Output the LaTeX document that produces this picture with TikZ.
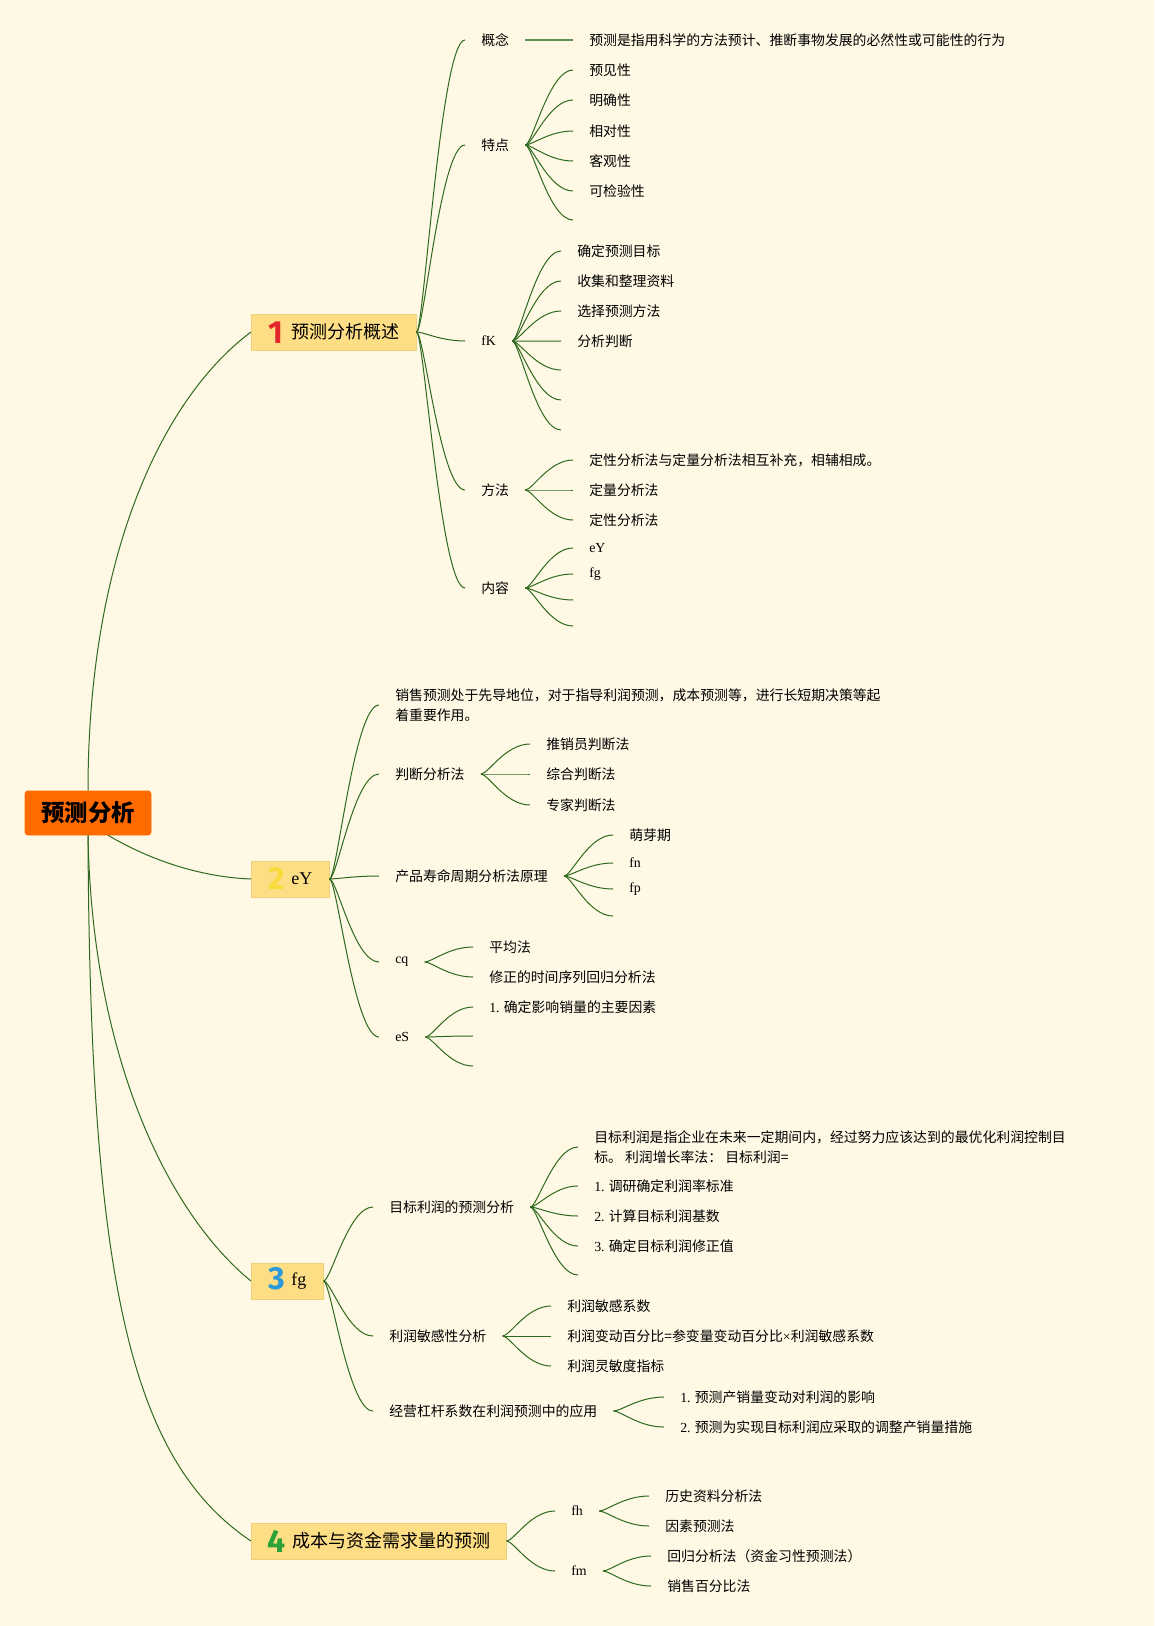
\documentclass[tikz,border=0pt]{standalone}
\usepackage{fontspec}
\setmainfont{Liberation Serif}
\newfontfamily\cjk{Noto Sans CJK SC}
\newfontfamily\numfont{Fira Sans}
\usepackage{xcolor}
\usepackage{tikz}
\usetikzlibrary{calc}
\definecolor{bgcream}{HTML}{FEF8E4}
\definecolor{linkgreen}{HTML}{2E6A1E}
\definecolor{topicfill}{HTML}{FDDE85}
\definecolor{topicdraw}{HTML}{EFD07C}
\definecolor{rootfill}{HTML}{FF6B00}
\definecolor{numred}{HTML}{E3262C}
\definecolor{numyellow}{HTML}{F8DA3A}
\definecolor{numblue}{HTML}{2C9AD8}
\definecolor{numgreen}{HTML}{2AA238}
\newcommand{\latn}[1]{{\rmfamily #1}}
\newcommand{\topicnum}[2]{\raisebox{-3.3pt}[0pt][0pt]{\numfont\bfseries\fontsize{24}{24}\selectfont\color{#1}#2}}

\begin{document}
\begin{tikzpicture}[x=0.75pt, y=-0.75pt, rootbox/.style={fill=rootfill, draw=rootfill, rounded corners=2pt, minimum width=94.5pt, minimum height=33pt, inner sep=0pt, font=\cjk\bfseries\fontsize{17.5}{20}\selectfont}, topic/.style={anchor=west, fill=topicfill, draw=topicdraw, minimum height=27pt, inner sep=0pt, font=\cjk\fontsize{13.5}{16}\selectfont}, sub/.style={anchor=west, inner xsep=12pt, inner ysep=1pt, align=left, font=\cjk\fontsize{10.4}{14.6}\selectfont}, trunk/.style={draw=linkgreen, line width=0.75pt}, link/.style={draw=linkgreen, line width=0.75pt, to path={.. controls ($(\tikztostart)!0.15!(\tikztostart -| \tikztotarget)$) and ($(\tikztotarget)!0.5!(\tikztotarget -| \tikztostart)$) .. (\tikztotarget)}}]
\fill[bgcream] (0,0) rectangle (1154,1626);
\useasboundingbox (0,0) rectangle (1154,1626);
\node[rootbox] (root) at (88,813) {预测分析};
\node[topic, minimum width=123.75pt] (b1) at (251,332) {\topicnum{numred}{1}\hspace{6.5pt}预测分析概述};
\node[topic, minimum width=58.5pt]   (b2) at (251,879) {\topicnum{numyellow}{2}\hspace{5pt}\latn{eY}};
\node[topic, minimum width=54pt]     (b3) at (251,1281) {\topicnum{numblue}{3}\hspace{5pt}\latn{fg}};
\node[topic, minimum width=191.25pt] (b4) at (251,1541) {\topicnum{numgreen}{4}\hspace{5.5pt}成本与资金需求量的预测};
\draw[trunk] (root.north) .. controls (88,560) and (160,400) .. (b1.west);
\draw[trunk] (root.-48) .. controls (150,860) and (200,877) .. (b2.west);
\draw[trunk] (root.south) .. controls (92,1060) and (170,1215) .. (b3.west);
\draw[trunk] (root.south) .. controls (90,1280) and (130,1460) .. (b4.west);
\node[sub] (gn)  at (465,40)  {概念};
\node[sub] (gn1) at (573,40)  {预测是指用科学的方法预计、推断事物发展的必然性或可能性的行为};
\node[sub] (td)  at (465,145) {特点};
\node[sub] (td1) at (573,70)  {预见性};
\node[sub] (td2) at (573,100) {明确性};
\node[sub] (td3) at (573,131) {相对性};
\node[sub] (td4) at (573,161) {客观性};
\node[sub] (td5) at (573,191) {可检验性};
\node[sub] (td6) at (573,220) {};
\node[sub] (fk)  at (465,341) {\latn{fK}};
\node[sub] (fk1) at (561,251) {确定预测目标};
\node[sub] (fk2) at (561,281) {收集和整理资料};
\node[sub] (fk3) at (561,311) {选择预测方法};
\node[sub] (fk4) at (561,341) {分析判断};
\node[sub] (fk5) at (561,370) {};
\node[sub] (fk6) at (561,400) {};
\node[sub] (fk7) at (561,430) {};
\node[sub] (ff)  at (465,490) {方法};
\node[sub] (ff1) at (573,460) {定性分析法与定量分析法相互补充，相辅相成。};
\node[sub] (ff2) at (573,490) {定量分析法};
\node[sub] (ff3) at (573,520) {定性分析法};
\node[sub] (nr)  at (465,588) {内容};
\node[sub] (nr1) at (573,548) {\latn{eY}};
\node[sub] (nr2) at (573,574) {\latn{fg}};
\node[sub] (nr3) at (573,600) {};
\node[sub] (nr4) at (573,626) {};
\draw[link] (b1.east) to (gn.west); \draw[link] (b1.east) to (td.west); \draw[link] (b1.east) to (fk.west); \draw[link] (b1.east) to (ff.west); \draw[link] (b1.east) to (nr.west);
\draw[link, line width=1.2pt, draw=linkgreen!75] (gn.east) to (gn1.west);
\draw[link] (td.east) to (td1.west); \draw[link] (td.east) to (td2.west); \draw[link] (td.east) to (td3.west); \draw[link] (td.east) to (td4.west); \draw[link] (td.east) to (td5.west); \draw[link] (td.east) to (td6.west);
\draw[link] (fk.east) to (fk1.west); \draw[link] (fk.east) to (fk2.west); \draw[link] (fk.east) to (fk3.west); \draw[link] (fk.east) to (fk4.west); \draw[link] (fk.east) to (fk5.west); \draw[link] (fk.east) to (fk6.west); \draw[link] (fk.east) to (fk7.west);
\draw[link] (ff.east) to (ff1.west); \draw[link] (ff.east) to (ff2.west); \draw[link] (ff.east) to (ff3.west);
\draw[link] (nr.east) to (nr1.west); \draw[link] (nr.east) to (nr2.west); \draw[link] (nr.east) to (nr3.west); \draw[link] (nr.east) to (nr4.west);
\node[sub] (xs)  at (379,705) {销售预测处于先导地位，对于指导利润预测，成本预测等，进行长短期决策等起\\着重要作用。};
\node[sub] (pd)  at (379,774) {判断分析法};
\node[sub] (pd1) at (530,744) {推销员判断法};
\node[sub] (pd2) at (530,774) {综合判断法};
\node[sub] (pd3) at (530,805) {专家判断法};
\node[sub] (cp)  at (379,876) {产品寿命周期分析法原理};
\node[sub] (cp1) at (613,835) {萌芽期};
\node[sub] (cp2) at (613,863) {\latn{fn}};
\node[sub] (cp3) at (613,889) {\latn{fp}};
\node[sub] (cp4) at (613,916) {};
\node[sub] (cq)  at (379,962) {\latn{cq}};
\node[sub] (cq1) at (473,947) {平均法};
\node[sub] (cq2) at (473,977) {修正的时间序列回归分析法};
\node[sub] (es)  at (379,1037) {\latn{eS}};
\node[sub] (es1) at (473,1007) {\latn{1.} 确定影响销量的主要因素};
\node[sub] (es2) at (473,1036) {};
\node[sub] (es3) at (473,1066) {};
\draw[link] (b2.east) to (xs.west); \draw[link] (b2.east) to (pd.west); \draw[link] (b2.east) to (cp.west); \draw[link] (b2.east) to (cq.west); \draw[link] (b2.east) to (es.west);
\draw[link] (pd.east) to (pd1.west); \draw[link] (pd.east) to (pd2.west); \draw[link] (pd.east) to (pd3.west);
\draw[link] (cp.east) to (cp1.west); \draw[link] (cp.east) to (cp2.west); \draw[link] (cp.east) to (cp3.west); \draw[link] (cp.east) to (cp4.west);
\draw[link] (cq.east) to (cq1.west); \draw[link] (cq.east) to (cq2.west);
\draw[link] (es.east) to (es1.west); \draw[link] (es.east) to (es2.west); \draw[link] (es.east) to (es3.west);
\node[sub] (mb)  at (373,1207) {目标利润的预测分析};
\node[sub] (mb1) at (578,1147) {目标利润是指企业在未来一定期间内，经过努力应该达到的最优化利润控制目\\标。 利润增长率法： 目标利润=};
\node[sub] (mb2) at (578,1186) {\latn{1.} 调研确定利润率标准};
\node[sub] (mb3) at (578,1216) {\latn{2.} 计算目标利润基数};
\node[sub] (mb4) at (578,1246) {\latn{3.} 确定目标利润修正值};
\node[sub] (mb5) at (578,1275) {};
\node[sub] (lr)  at (373,1336) {利润敏感性分析};
\node[sub] (lr1) at (551,1306) {利润敏感系数};
\node[sub] (lr2) at (551,1336) {利润变动百分比=参变量变动百分比\latn{×}利润敏感系数};
\node[sub] (lr3) at (551,1366) {利润灵敏度指标};
\node[sub] (jy)  at (373,1411) {经营杠杆系数在利润预测中的应用};
\node[sub] (jy1) at (664,1397) {\latn{1.} 预测产销量变动对利润的影响};
\node[sub] (jy2) at (664,1427) {\latn{2.} 预测为实现目标利润应采取的调整产销量措施};
\draw[link] (b3.east) to (mb.west); \draw[link] (b3.east) to (lr.west); \draw[link] (b3.east) to (jy.west);
\draw[link] (mb.east) to (mb1.west); \draw[link] (mb.east) to (mb2.west); \draw[link] (mb.east) to (mb3.west); \draw[link] (mb.east) to (mb4.west); \draw[link] (mb.east) to (mb5.west);
\draw[link] (lr.east) to (lr1.west); \draw[link] (lr.east) to (lr2.west); \draw[link] (lr.east) to (lr3.west);
\draw[link] (jy.east) to (jy1.west); \draw[link] (jy.east) to (jy2.west);
\node[sub] (fh)  at (555,1511) {\latn{fh}};
\node[sub] (fh1) at (649,1496) {历史资料分析法};
\node[sub] (fh2) at (649,1526) {因素预测法};
\node[sub] (fm)  at (555,1571) {\latn{fm}};
\node[sub] (fm1) at (651,1556) {回归分析法（资金习性预测法）};
\node[sub] (fm2) at (651,1586) {销售百分比法};
\draw[link] (b4.east) to (fh.west); \draw[link] (b4.east) to (fm.west);
\draw[link] (fh.east) to (fh1.west); \draw[link] (fh.east) to (fh2.west);
\draw[link] (fm.east) to (fm1.west); \draw[link] (fm.east) to (fm2.west);
\end{tikzpicture}
\end{document}
